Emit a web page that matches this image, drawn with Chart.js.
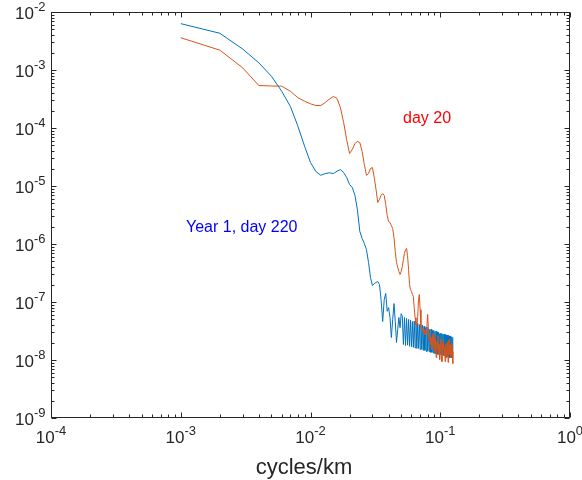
<!DOCTYPE html>
<html>
<head>
<meta charset="utf-8">
<script src="https://cdn.jsdelivr.net/npm/chart.js@4/dist/chart.umd.min.js"></script>
<style>
  html, body { margin: 0; padding: 0; background: #fff; }
  canvas { display: block; }
</style>
</head>
<body>
<canvas id="chart" width="582" height="480"></canvas>
<script>
// wavenumber grid (cycles/km)
const freq = [
  0.001, 0.002, 0.003, 0.004, 0.005, 0.006, 0.007, 0.008, 0.009, 0.010,
  0.011, 0.012, 0.013, 0.014, 0.015, 0.016, 0.017, 0.018, 0.019, 0.020,
  0.021, 0.022, 0.023, 0.024, 0.025, 0.026, 0.027, 0.028, 0.029, 0.030,
  0.031, 0.032, 0.033, 0.034, 0.035, 0.036, 0.037, 0.038, 0.039, 0.040,
  0.041, 0.042, 0.043, 0.044, 0.045, 0.046, 0.047, 0.048, 0.049, 0.050,
  0.051, 0.052, 0.053, 0.054, 0.055, 0.056, 0.057, 0.058, 0.059, 0.060,
  0.061, 0.062, 0.063, 0.064, 0.065, 0.066, 0.067, 0.068, 0.069, 0.070,
  0.071, 0.072, 0.073, 0.074, 0.075, 0.076, 0.077, 0.078, 0.079, 0.080,
  0.081, 0.082, 0.083, 0.084, 0.085, 0.086, 0.087, 0.088, 0.089, 0.090,
  0.091, 0.092, 0.093, 0.094, 0.095, 0.096, 0.097, 0.098, 0.099, 0.100,
  0.101, 0.102, 0.103, 0.104, 0.105, 0.106, 0.107, 0.108, 0.109, 0.110,
  0.111, 0.112, 0.113, 0.114, 0.115, 0.116, 0.117, 0.118, 0.119, 0.120,
  0.121, 0.122, 0.123, 0.124, 0.125
];

// Year 1, day 220 spectrum (blue)
const specDay220 = [
  6.3e-3, 4.3e-3, 2.3e-3, 1.33e-3, 7.8e-4, 4.3e-4, 2.35e-4, 1.07e-4, 4.85e-5, 2.54e-5,
  1.78e-5, 1.53e-5, 1.64e-5, 1.69e-5, 1.64e-5, 1.8e-5, 1.92e-5, 1.71e-5, 1.4e-5, 1.06e-5,
  9.4e-6, 6.9e-6, 3.9e-6, 1.64e-6, 1.25e-6, 1.02e-6, 8.0e-7, 4.8e-7, 2.64e-7, 1.92e-7,
  2.08e-7, 2.17e-7, 2.25e-7, 2.0e-7, 1.1e-7, 4.6e-8, 1.1e-7, 1.4e-7, 6.9e-8, 8.0e-8,
  5.4e-8, 2.44e-8, 5.0e-8, 9.4e-8, 4.6e-8, 2.0e-8, 3.36e-8, 5.4e-8, 3.6e-8, 6.3e-8,
  5.7e-8, 1.85e-8, 5.4e-8, 1.78e-8, 5.2e-8, 1.8e-8, 5.0e-8, 1.72e-8, 4.9e-8, 1.7e-8,
  4.6e-8, 1.65e-8, 4.7e-8, 1.62e-8, 4.4e-8, 1.58e-8, 4.3e-8, 1.58e-8, 4.1e-8, 1.52e-8,
  3.9e-8, 1.53e-8, 4.0e-8, 1.46e-8, 3.8e-8, 1.47e-8, 3.6e-8, 1.4e-8, 3.7e-8, 1.42e-8,
  3.5e-8, 1.4e-8, 3.36e-8, 1.35e-8, 3.4e-8, 1.36e-8, 3.2e-8, 1.33e-8, 3.25e-8, 1.3e-8,
  3.1e-8, 1.3e-8, 3.15e-8, 1.28e-8, 3.0e-8, 1.25e-8, 3.0e-8, 1.26e-8, 2.85e-8, 1.25e-8,
  2.9e-8, 1.2e-8, 2.85e-8, 1.21e-8, 2.75e-8, 1.2e-8, 2.8e-8, 1.18e-8, 2.75e-8, 1.15e-8,
  2.65e-8, 1.16e-8, 2.7e-8, 1.15e-8, 2.65e-8, 1.13e-8, 2.55e-8, 1.1e-8, 2.6e-8, 1.1e-8,
  2.55e-8, 1.1e-8, 2.5e-8, 1.08e-8, 2.45e-8
];

// day 20 spectrum (orange)
const specDay20 = [
  3.6e-3, 2.2e-3, 1.09e-3, 5.4e-4, 5.3e-4, 5.26e-4, 4.3e-4, 3.32e-4, 2.9e-4, 2.61e-4,
  2.44e-4, 2.44e-4, 2.75e-4, 3.16e-4, 3.5e-4, 3.23e-4, 2.25e-4, 1.25e-4, 6.3e-5, 3.63e-5,
  4.26e-5, 5.4e-5, 5.85e-5, 5.6e-5, 3.94e-5, 2.35e-5, 1.52e-5, 1.64e-5, 2.0e-5, 2.08e-5,
  1.4e-5, 8.7e-6, 5.2e-6, 5.85e-6, 6.9e-6, 7.4e-6, 6.9e-6, 4.8e-6, 3.1e-6, 2.44e-6,
  2.35e-6, 2.08e-6, 1.85e-6, 1.29e-6, 7.4e-7, 4.8e-7, 3.94e-7, 3.36e-7, 2.98e-7, 3.36e-7,
  4.1e-7, 5.4e-7, 6.9e-7, 8.0e-7, 8.4e-7, 6.3e-7, 3.63e-7, 2.0e-7, 1.64e-7, 1.52e-7,
  1.35e-7, 1.25e-7, 8.0e-8, 5.4e-8, 4.1e-8, 3.8e-8, 5.4e-8, 1.1e-7, 1.35e-7, 7.4e-8,
  3.8e-8, 3.36e-8, 3.6e-8, 2.98e-8, 3.36e-8, 2.75e-8, 3.2e-8, 2.85e-8, 4.1e-8, 6.1e-8,
  3.36e-8, 2.25e-8, 2.75e-8, 1.85e-8, 2.44e-8, 1.52e-8, 2.25e-8, 2.85e-8, 1.85e-8, 1.4e-8,
  2.44e-8, 1.78e-8, 1.1e-8, 2.08e-8, 1.52e-8, 2.65e-8, 1.25e-8, 1.85e-8, 1.02e-8, 1.72e-8,
  2.25e-8, 1.4e-8, 9.4e-9, 1.92e-8, 1.52e-8, 2.25e-8, 1.2e-8, 1.65e-8, 9.4e-9, 1.85e-8,
  1.4e-8, 1.1e-8, 2.0e-8, 1.52e-8, 9.1e-9, 1.65e-8, 2.25e-8, 1.25e-8, 1.78e-8, 1.1e-8,
  1.52e-8, 1.92e-8, 1.2e-8, 1.4e-8, 8.7e-9
];

// axis decades
const xDecades = [-4, -3, -2, -1, 0];
const yDecades = [-9, -8, -7, -6, -5, -4, -3, -2];

const FONT = '"Liberation Sans", Arial, Helvetica, sans-serif';
const AXIS_COLOR = '#262626';

function toPoints(xs, ys) {
  return xs.map((x, i) => ({ x: x, y: ys[i] }));
}

// draw "10" with a raised exponent; align = 'center' or 'right'
function drawPow(ctx, exp, x, y, align) {
  ctx.font = '17px ' + FONT;
  const base = '10';
  const wBase = ctx.measureText(base).width;
  ctx.font = '13px ' + FONT;
  const sup = String(exp);
  const wSup = ctx.measureText(sup).width;
  const total = wBase + wSup;
  let start = align === 'right' ? x - total : x - total / 2;
  ctx.textAlign = 'left';
  ctx.textBaseline = 'alphabetic';
  ctx.font = '17px ' + FONT;
  ctx.fillText(base, start, y);
  ctx.font = '13px ' + FONT;
  ctx.fillText(sup, start + wBase, y - 8);
}

// MATLAB-like box, inward ticks and power-of-ten labels
const matlabAxes = {
  id: 'matlabAxes',
  afterDraw(chart) {
    const ctx = chart.ctx;
    const a = chart.chartArea;
    const xs = chart.scales.x;
    const ys = chart.scales.y;
    const L = Math.round(a.left) + 0.5;
    const R = Math.round(a.right) - 0.5;
    const T = Math.round(a.top) + 0.5;
    const B = Math.round(a.bottom) - 0.5;

    ctx.save();
    ctx.strokeStyle = AXIS_COLOR;
    ctx.lineWidth = 1;
    ctx.strokeRect(L, T, R - L, B - T);

    ctx.beginPath();
    // x ticks
    xDecades.forEach((d) => {
      for (let m = 1; m <= 9; m++) {
        if (d === 0 && m > 1) break;
        const px = Math.round(xs.getPixelForValue(m * Math.pow(10, d))) + 0.5;
        const len = m === 1 ? 5 : 3;
        ctx.moveTo(px, B); ctx.lineTo(px, B - len);
        ctx.moveTo(px, T); ctx.lineTo(px, T + len);
      }
    });
    // y ticks
    yDecades.forEach((d) => {
      for (let m = 1; m <= 9; m++) {
        if (d === -2 && m > 1) break;
        const py = Math.round(ys.getPixelForValue(m * Math.pow(10, d))) + 0.5;
        const len = m === 1 ? 5 : 3;
        ctx.moveTo(L, py); ctx.lineTo(L + len, py);
        ctx.moveTo(R, py); ctx.lineTo(R - len, py);
      }
    });
    ctx.stroke();

    ctx.fillStyle = AXIS_COLOR;
    xDecades.forEach((d) => {
      drawPow(ctx, d, xs.getPixelForValue(Math.pow(10, d)), B + 25, 'center');
    });
    yDecades.forEach((d) => {
      drawPow(ctx, d, L - 6, ys.getPixelForValue(Math.pow(10, d)) + 7, 'right');
    });

    // axis label
    ctx.font = '22px ' + FONT;
    ctx.textAlign = 'center';
    ctx.fillText('cycles/km', 304, 474);

    // curve annotations
    ctx.textAlign = 'left';
    ctx.font = '16px ' + FONT;
    ctx.fillStyle = '#ff0000';
    ctx.fillText('day 20', 403, 123);
    ctx.fillStyle = '#0000ff';
    ctx.fillText('Year 1, day 220', 186, 232);
    ctx.restore();
  }
};

new Chart(document.getElementById('chart'), {
  type: 'line',
  data: {
    datasets: [
      {
        label: 'day 20',
        data: toPoints(freq, specDay20),
        borderColor: '#D95319',
        borderWidth: 1,
        pointRadius: 0,
        tension: 0,
        fill: false
      },
      {
        label: 'Year 1, day 220',
        data: toPoints(freq, specDay220),
        borderColor: '#0072BD',
        borderWidth: 1,
        pointRadius: 0,
        tension: 0,
        fill: false
      }
    ]
  },
  options: {
    responsive: false,
    animation: false,
    layout: { padding: { left: 51, right: 12, top: 12, bottom: 62 } },
    plugins: {
      legend: { display: false },
      tooltip: { enabled: false }
    },
    scales: {
      x: { type: 'logarithmic', min: 1e-4, max: 1, display: false },
      y: { type: 'logarithmic', min: 1e-9, max: 1e-2, display: false }
    }
  },
  plugins: [matlabAxes]
});
</script>
</body>
</html>
